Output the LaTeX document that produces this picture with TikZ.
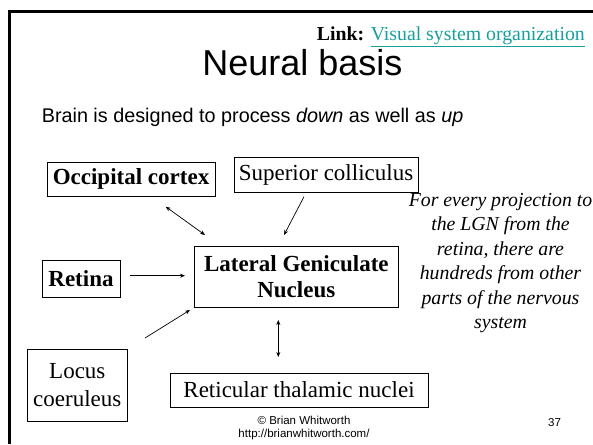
\documentclass[tikz,border=0pt]{standalone}
\usepackage{fontspec}
\setmainfont{Liberation Serif}
\setsansfont{Liberation Sans}
\usetikzlibrary{arrows.meta}
\definecolor{linkteal}{HTML}{17A09B}
\tikzset{
  box/.style={draw, line width=0.8pt, inner sep=1pt, align=center, font=\fontsize{23}{26.5}\selectfont},
  boldbox/.style={box, font=\bfseries\fontsize{23}{26.5}\selectfont},
  conn/.style={line width=0.7pt, -{Stealth[length=5pt,width=4pt]}},
  biconn/.style={line width=0.7pt, {Stealth[length=5pt,width=4pt]}-{Stealth[length=5pt,width=4pt]}},
  foottext/.style={font=\sffamily\fontsize{11.5}{13.3}\selectfont},
}
\begin{document}
\begin{tikzpicture}[x=1pt,y=-1pt]
\useasboundingbox (0,0) rectangle (593,444);
\fill[white] (0,0) rectangle (593,444);
\draw[line width=3pt] (9.8,444) -- (9.8,12) -- (593,12);
% header
\node[anchor=base east, inner sep=0] (link) at (585,41) {\fontsize{19.8}{22}\selectfont\textbf{Link:} {\color{linkteal}\underline{Visual system organization}}};
\node[anchor=base, inner sep=0] (title) at (302.5,75) {\sffamily\fontsize{36}{40}\selectfont Neural basis};
\node[anchor=base west, inner sep=0] (intro) at (41.6,122.3) {\sffamily\fontsize{19.8}{22}\selectfont Brain is designed to process \textit{down} as well as \textit{up}};
% boxes
\node[boldbox, minimum width=168, minimum height=34] (occ) at (131,179) {Occipital cortex};
\node[box, minimum width=184, minimum height=35] (sup) at (326,174.5) {Superior colliculus};
\node[boldbox, minimum width=78, minimum height=37] (ret) at (81,278.5) {Retina};
\node[boldbox, minimum width=204, minimum height=61] (lgn) at (296.3,276.7) {Lateral Geniculate\\Nucleus};
\node[box, minimum width=100, minimum height=72, font=\fontsize{23}{28.5}\selectfont] (loc) at (77.3,385) {Locus\\coeruleus};
\node[box, minimum width=258, minimum height=34] (rtn) at (299,390) {Reticular thalamic nuclei};
% side note
\node[align=center, inner sep=0, anchor=north, font=\itshape\fontsize{19.8}{24.5}\selectfont] (note) at (500.5,193) {For every projection to\\the LGN from the\\retina, there are\\hundreds from other\\parts of the nervous\\system};
% footer
\node[align=center, inner sep=0, anchor=north, foottext] (foot) at (304,416) {\textcopyright{} Brian Whitworth\\http://brianwhitworth.com/};
\node[anchor=base, inner sep=0, foottext] (page) at (554.5,426.7) {37};
% connector end points
\coordinate (occA) at (165.7,206.7);
\coordinate (occB) at (205,235);
\coordinate (supA) at (304,196.7);
\coordinate (supB) at (284,235);
\coordinate (retA) at (130,275.7);
\coordinate (retB) at (185,275.7);
\coordinate (locA) at (145,338);
\coordinate (locB) at (190,310);
\coordinate (rtnA) at (278.3,320);
\coordinate (rtnB) at (278.3,357);
\draw[biconn] (occA) -- (occB);
\draw[conn] (supA) -- (supB);
\draw[conn] (retA) -- (retB);
\draw[conn] (locA) -- (locB);
\draw[biconn] (rtnA) -- (rtnB);
\end{tikzpicture}
\end{document}
